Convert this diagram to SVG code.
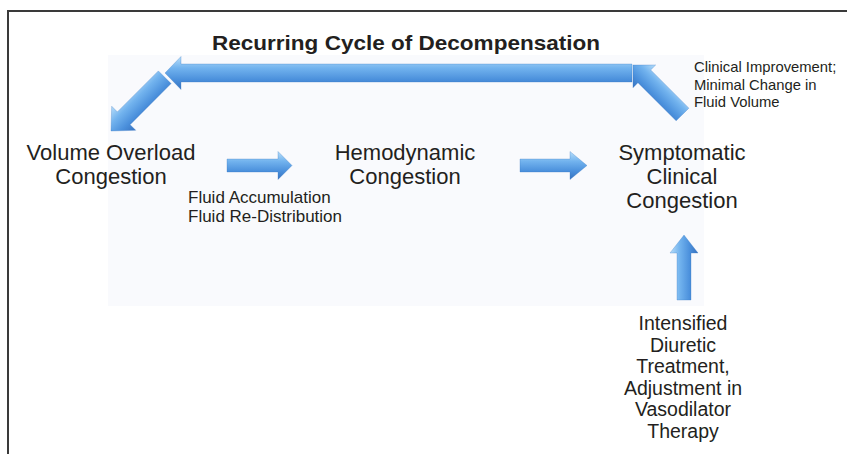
<svg xmlns="http://www.w3.org/2000/svg" width="847" height="454" viewBox="0 0 847 454">
<defs>
<linearGradient id="gLight" x1="0" y1="0" x2="0" y2="1">
<stop offset="0" stop-color="#b8defa"/>
<stop offset="0.35" stop-color="#72b3ee"/>
<stop offset="0.7" stop-color="#4b90dc"/>
<stop offset="1" stop-color="#3873c0"/>
</linearGradient>
<linearGradient id="gFlip" x1="0" y1="1" x2="0" y2="0">
<stop offset="0" stop-color="#b8defa"/>
<stop offset="0.35" stop-color="#72b3ee"/>
<stop offset="0.7" stop-color="#4b90dc"/>
<stop offset="1" stop-color="#3873c0"/>
</linearGradient>
<style>
.t{font-family:"Liberation Sans",Arial,sans-serif;fill:#231f20}
.main{font-size:22px;text-anchor:middle}
.small{font-size:17px}
.note{font-size:14.8px}
.bot{font-size:19.5px;text-anchor:middle}
.title{font-size:21px;font-weight:bold;text-anchor:middle}
.arr{stroke:#3a78c4;stroke-width:0.6;stroke-opacity:0.5}
</style>
</defs>
<rect x="0" y="0" width="847" height="454" fill="#ffffff"/>
<rect x="8" y="11" width="860" height="470" fill="none" stroke="#3a3a3a" stroke-width="2"/>
<rect x="108" y="55" width="596" height="251" fill="#f9fafd"/>

<g id="title"><text class="t title" x="406" y="50" textLength="388" lengthAdjust="spacingAndGlyphs">Recurring Cycle of Decompensation</text></g>

<g id="connectors">
<!-- big horizontal arrow, tip left -->
<path class="arr" transform="translate(632,73) scale(-1,1)" fill="url(#gLight)" d="M0,-9 L451,-9 L451,-16.5 L467,0 L451,16.5 L451,9 L0,9 Z"/>
<!-- left diagonal arrow, down-left -->
<path class="arr" transform="translate(111,131) rotate(135) translate(-76,0)" fill="url(#gFlip)" d="M0,-9 L58,-9 L58,-17 L76,0 L58,17 L58,9 L0,9 Z"/>
<!-- right diagonal arrow, up-left -->
<path class="arr" transform="translate(633,65) rotate(225) translate(-70,0)" fill="url(#gFlip)" d="M0,-9 L54,-9 L54,-16 L70,0 L54,16 L54,9 L0,9 Z"/>
<!-- small arrow 1 -->
<path class="arr" transform="translate(227,165.5)" fill="url(#gLight)" d="M0,-6.5 L51,-6.5 L51,-14 L65,0 L51,14 L51,6.5 L0,6.5 Z"/>
<!-- small arrow 2 -->
<path class="arr" transform="translate(520,165.5)" fill="url(#gLight)" d="M0,-6.5 L50,-6.5 L50,-14 L67,0 L50,14 L50,6.5 L0,6.5 Z"/>
<!-- up arrow -->
<path class="arr" transform="translate(684,300) rotate(-90)" fill="url(#gLight)" d="M0,-7 L47,-7 L47,-14 L65,0 L47,14 L47,7 L0,7 Z"/>
</g>

<g id="volume-overload">
<text class="t main" x="111" y="160">Volume Overload</text>
<text class="t main" x="111" y="184">Congestion</text>
</g>
<g id="fluid-label">
<text class="t small" x="188" y="203">Fluid Accumulation</text>
<text class="t small" x="188" y="222">Fluid Re-Distribution</text>
</g>
<g id="hemodynamic">
<text class="t main" x="405" y="160">Hemodynamic</text>
<text class="t main" x="405" y="184">Congestion</text>
</g>
<g id="symptomatic">
<text class="t main" x="682" y="160">Symptomatic</text>
<text class="t main" x="682" y="184">Clinical</text>
<text class="t main" x="682" y="208">Congestion</text>
</g>
<g id="improvement-label">
<text class="t note" x="694" y="72">Clinical Improvement;</text>
<text class="t note" x="694" y="89.5">Minimal Change in</text>
<text class="t note" x="694" y="107">Fluid Volume</text>
</g>
<g id="treatment">
<text class="t bot" x="683" y="330">Intensified</text>
<text class="t bot" x="683" y="351.6">Diuretic</text>
<text class="t bot" x="683" y="373.2">Treatment,</text>
<text class="t bot" x="683" y="394.8">Adjustment in</text>
<text class="t bot" x="683" y="416.4">Vasodilator</text>
<text class="t bot" x="683" y="438">Therapy</text>
</g>
</svg>
